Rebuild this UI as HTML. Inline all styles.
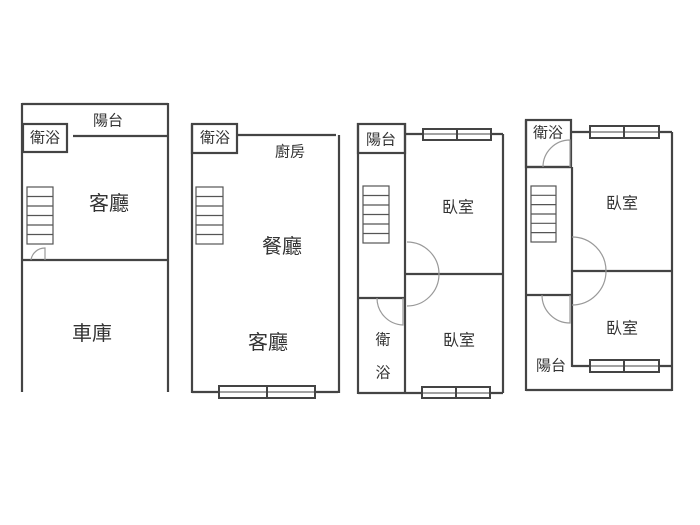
<!DOCTYPE html>
<html><head><meta charset="utf-8"><style>
html,body{margin:0;padding:0;background:#fff;}
svg{display:block;}
text{font-family:"Liberation Sans","Noto Sans CJK TC",sans-serif;fill:#333;text-anchor:middle;dominant-baseline:central;}
</style></head><body>
<svg width="700" height="525" viewBox="0 0 700 525" xmlns="http://www.w3.org/2000/svg">
<rect width="700" height="525" fill="#fff"/>
<g stroke="#444" stroke-width="2.2" fill="none">
<!-- Plan 1 -->
<line x1="22" y1="104" x2="168" y2="104"/>
<line x1="22" y1="103" x2="22" y2="392"/>
<line x1="168" y1="103" x2="168" y2="392"/>
<line x1="73" y1="136" x2="168" y2="136"/>
<rect x="23" y="124" width="44" height="28"/>
<line x1="22" y1="260" x2="168" y2="260"/>
<!-- Plan 2 -->
<line x1="192" y1="124" x2="192" y2="393"/>
<rect x="192" y="124" width="45" height="29"/>
<line x1="237" y1="135" x2="336" y2="135"/>
<line x1="339" y1="135" x2="339" y2="393"/>
<line x1="192" y1="392" x2="338" y2="392"/>
<!-- Plan 3 -->
<line x1="358" y1="123" x2="358" y2="394"/>
<rect x="358" y="124" width="47" height="29"/>
<line x1="405" y1="123" x2="405" y2="393"/>
<line x1="358" y1="298" x2="405" y2="298"/>
<line x1="405" y1="134" x2="503" y2="134"/>
<line x1="503" y1="134" x2="503" y2="393"/>
<line x1="405" y1="274" x2="503" y2="274"/>
<line x1="358" y1="393" x2="503" y2="393"/>
<!-- Plan 4 -->
<line x1="526" y1="120" x2="526" y2="391"/>
<rect x="526" y="120" width="45" height="47"/>
<line x1="526" y1="167" x2="572" y2="167"/>
<line x1="572" y1="167" x2="572" y2="367"/>
<line x1="526" y1="295" x2="572" y2="295"/>
<line x1="571" y1="132" x2="672" y2="132"/>
<line x1="672" y1="132" x2="672" y2="391"/>
<line x1="572" y1="271" x2="672" y2="271"/>
<line x1="572" y1="366" x2="672" y2="366"/>
<line x1="526" y1="390" x2="672" y2="390"/>
</g>
<!-- windows -->
<g stroke="#444" stroke-width="2" fill="#fff">
<rect x="219" y="386" width="96" height="12"/><line x1="267" y1="386" x2="267" y2="398"/><line x1="219" y1="392" x2="315" y2="392" stroke-width="1"/>
<rect x="423" y="129" width="68" height="11"/><line x1="457" y1="129" x2="457" y2="140"/><line x1="423" y1="134" x2="491" y2="134" stroke-width="1"/>
<rect x="422" y="387" width="68" height="11"/><line x1="456" y1="387" x2="456" y2="398"/><line x1="422" y1="393" x2="490" y2="393" stroke-width="1"/>
<rect x="590" y="126" width="69" height="12"/><line x1="624" y1="126" x2="624" y2="138"/><line x1="590" y1="132" x2="659" y2="132" stroke-width="1"/>
<rect x="590" y="360" width="69" height="12"/><line x1="624" y1="360" x2="624" y2="372"/><line x1="590" y1="366" x2="659" y2="366" stroke-width="1"/>
</g>
<!-- stairs -->
<g stroke="#555" stroke-width="1.2" fill="#fff">
<rect x="27" y="187" width="26" height="57"/><path d="M27 196.5H53M27 206H53M27 215.5H53M27 225H53M27 234.5H53"/>
<rect x="196" y="187" width="27" height="57"/><path d="M196 196.5H223M196 206H223M196 215.5H223M196 225H223M196 234.5H223"/>
<rect x="363" y="186" width="26" height="57"/><path d="M363 195.5H389M363 205H389M363 214.5H389M363 224H389M363 233.5H389"/>
<rect x="531" y="186" width="25" height="56"/><path d="M531 195.3H556M531 204.6H556M531 214H556M531 223.3H556M531 232.6H556"/>
</g>
<!-- door arcs -->
<g stroke="#999" stroke-width="1.2" fill="none">
<path d="M31 260 A14 14 0 0 1 45 248 L45 260"/>
<path d="M407 242 A32 32 0 0 1 407 306"/>
<path d="M377 298 A27 27 0 0 0 403 325 L403 298"/>
<path d="M572 237 A34 34 0 0 1 572 305"/>
<path d="M543 167 A27 27 0 0 1 570 140 L570 167"/>
<path d="M542 295 A28 28 0 0 0 570 323 L570 295"/>
</g>
<!-- labels -->
<text x="108" y="121" font-size="15">陽台</text>
<text x="45" y="138" font-size="15">衛浴</text>
<text x="109" y="204" font-size="20">客廳</text>
<text x="92" y="334" font-size="20">車庫</text>
<text x="215" y="138" font-size="15">衛浴</text>
<text x="290" y="152" font-size="15">廚房</text>
<text x="282" y="247" font-size="20">餐廳</text>
<text x="268" y="343" font-size="20">客廳</text>
<text x="381" y="140" font-size="15">陽台</text>
<text x="458" y="208" font-size="16">臥室</text>
<text x="459" y="341" font-size="16">臥室</text>
<text x="383" y="340" font-size="15">衛</text>
<text x="383" y="373" font-size="15">浴</text>
<text x="548" y="133" font-size="15">衛浴</text>
<text x="622" y="204" font-size="16">臥室</text>
<text x="622" y="329" font-size="16">臥室</text>
<text x="551" y="366" font-size="15">陽台</text>
</svg>
</body></html>
